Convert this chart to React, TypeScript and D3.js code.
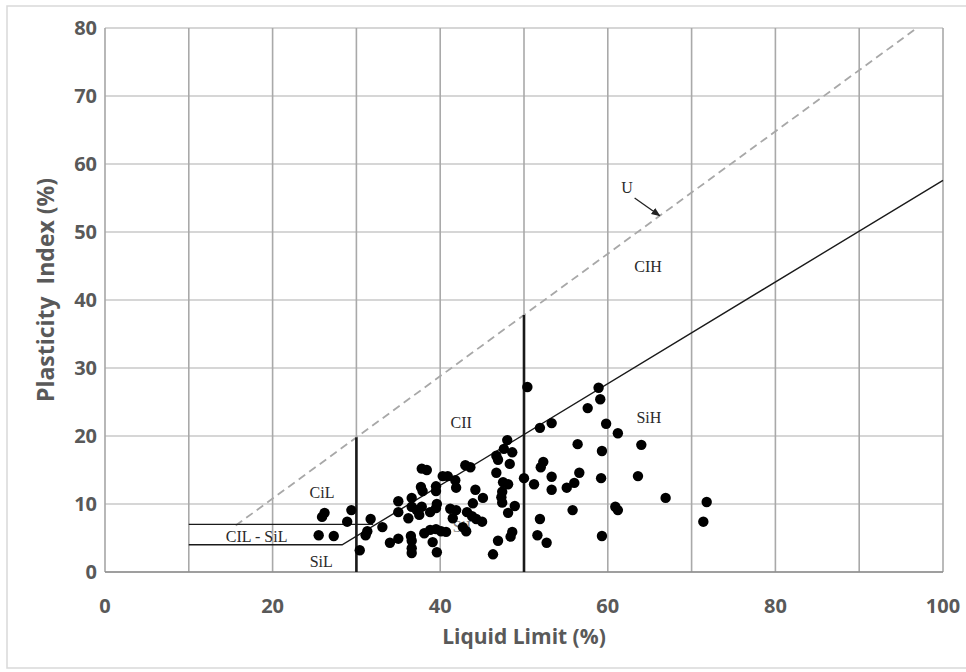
import React from "react";
import * as d3 from "d3";

// ---- data ----
const liquidLimit: number[] = [
  26.2, 25.9, 25.5, 27.3, 28.9, 29.4, 30.4, 31.7, 31.3, 31.1, 33.1, 34.0, 35.0, 35.0, 35.0, 36.6, 36.6, 36.2, 37.7, 37.9, 36.5, 36.6, 36.6, 36.6, 37.8, 38.4,
  39.5, 39.5, 40.3, 40.9, 41.8, 41.9, 43.0, 43.6, 44.2, 45.1, 43.9, 39.6, 39.5, 41.2, 41.9, 41.5, 37.2, 37.8, 37.5, 38.8, 43.2, 43.8, 44.3, 45.0, 42.7, 43.1, 38.1, 38.8, 39.5, 40.1, 40.7, 39.1, 39.6,
  46.7, 47.5, 48.1, 47.4, 47.3, 47.4, 48.9, 48.1, 48.6, 48.4, 46.9, 46.3, 50.0, 50.4, 48.0, 47.6, 48.6, 46.7, 46.9, 48.3,
  58.9, 59.1, 57.6, 51.9, 53.3, 59.8, 61.2, 56.4, 59.3, 64.0, 52.3, 52.0, 56.6, 53.3, 59.2, 63.6, 51.2, 53.3, 55.1, 56.0, 66.9, 71.8, 71.4, 55.8, 60.9, 61.2, 51.9, 51.6, 52.7, 59.3,
];
const plasticityIndex: number[] = [
  8.7, 8.1, 5.4, 5.3, 7.4, 9.1, 3.2, 7.8, 6.0, 5.4, 6.6, 4.3, 4.9, 10.4, 8.8, 10.9, 9.6, 7.9, 12.5, 11.9, 5.3, 4.6, 3.5, 2.8, 15.2, 15.0,
  12.6, 11.9, 14.1, 14.1, 13.5, 12.4, 15.7, 15.4, 12.1, 10.9, 10.1, 10.0, 9.4, 9.3, 9.1, 7.9, 9.1, 9.6, 8.4, 8.8, 8.8, 8.2, 7.8, 7.4, 6.6, 6.0, 5.7, 6.2, 6.3, 6.0, 5.9, 4.4, 2.9,
  14.6, 13.2, 12.9, 11.8, 11.0, 10.2, 9.7, 8.7, 5.9, 5.2, 4.6, 2.6, 13.8, 27.2, 19.4, 18.1, 17.6, 17.1, 16.5, 15.9,
  27.1, 25.4, 24.1, 21.2, 21.9, 21.8, 20.4, 18.8, 17.8, 18.7, 16.2, 15.4, 14.6, 14.0, 13.8, 14.1, 12.9, 12.1, 12.4, 13.1, 10.9, 10.3, 7.4, 9.1, 9.6, 9.1, 7.8, 5.4, 4.3, 5.3,
];
const xTicks: number[] = [0, 20, 40, 60, 80, 100];
const yTicks: number[] = [0, 10, 20, 30, 40, 50, 60, 70, 80];
const xGrid: number[] = [10, 20, 30, 40, 50, 60, 70, 80, 90, 100];

// classification lines (LL, PI)
const aLine: [number, number][] = [[10, 4], [28.3, 4], [100, 57.6]];
const ciLine: [number, number][] = [[10, 7], [32, 7]];
const uLine: [number, number][] = [[15.6, 0.9 * (15.6 - 8)], [96.9, 0.9 * (96.9 - 8)]];
const boundaryLL: number[] = [30, 50];
const uOf = (ll: number) => 0.9 * (ll - 8);

const zoneLabels: { text: string; ll: number; pi: number }[] = [
  { text: "CiL", ll: 25.9, pi: 10.9 },
  { text: "CIL - SiL", ll: 18.1, pi: 4.4 },
  { text: "SiL", ll: 25.8, pi: 0.7 },
  { text: "CII", ll: 42.5, pi: 21.2 },
  { text: "SiH", ll: 64.9, pi: 21.9 },
  { text: "CIH", ll: 64.8, pi: 44.1 },
  { text: "U", ll: 62.3, pi: 55.7 },
];

const W = 966;
const H = 672;
const M = { left: 105, right: 943, top: 28, bottom: 572 };

export default function App() {
  const x = d3.scaleLinear().domain([0, 100]).range([M.left, M.right]);
  const y = d3.scaleLinear().domain([0, 80]).range([M.bottom, M.top]);
  const line = d3
    .line<[number, number]>()
    .x((d) => x(d[0]))
    .y((d) => y(d[1]));
  const tickColor = "#595959";
  const sans = "'Open Sans', 'Noto Sans', sans-serif";
  const serif = "'Liberation Serif', 'DejaVu Serif', serif";

  return (
    <svg
      width={W}
      height={H}
      style={{ position: "absolute", left: 0, top: 0, background: "#fff" }}
    >
      <defs>
        <marker id="arr" viewBox="0 0 10 10" refX="9" refY="5" markerWidth="7" markerHeight="7" orient="auto">
          <path d="M0,1 L10,5 L0,9 z" fill="#222" />
        </marker>
      </defs>
      <rect x={7} y={6} width={W + 10} height={H - 10} fill="#fff" stroke="#d9d9d9" strokeWidth={1.5} />

      {/* horizontal grid */}
      {yTicks.map((t) => (
        <line key={"hy" + t} x1={x(0)} x2={x(100)} y1={y(t)} y2={y(t)} stroke="#d6d6d6" strokeWidth={1.8} />
      ))}
      {/* vertical grid */}
      {xGrid.map((t) => (
        <line key={"vx" + t} x1={x(t)} x2={x(t)} y1={y(0)} y2={y(80)} stroke="#a9a9a9" strokeWidth={1.6} />
      ))}
      {/* left axis & bottom axis */}
      <line x1={x(0)} x2={x(0)} y1={y(0)} y2={y(80)} stroke="#a6a6a6" strokeWidth={1.6} />
      <line x1={x(0)} x2={x(100)} y1={y(0)} y2={y(0)} stroke="#8c8c8c" strokeWidth={1.6} />

      {/* U line */}
      <path d={line(uLine) || ""} fill="none" stroke="#a8a8a8" strokeWidth={1.8} strokeDasharray="8,5" />
      {/* A line and lower bounds */}
      <path d={line(aLine) || ""} fill="none" stroke="#1a1a1a" strokeWidth={1.4} />
      <path d={line(ciLine) || ""} fill="none" stroke="#1a1a1a" strokeWidth={1.4} />
      {boundaryLL.map((b) => (
        <line key={"b" + b} x1={x(b)} x2={x(b)} y1={y(0)} y2={y(uOf(b))} stroke="#1a1a1a" strokeWidth={2.6} />
      ))}

      {/* zone labels */}
      <text x={x(42.6)} y={y(5.9)} textAnchor="middle" fontFamily={serif} fontSize={16} fill="#888">SiI</text>
      {zoneLabels.map((l) => (
        <text key={l.text} x={x(l.ll)} y={y(l.pi)} textAnchor="middle" fontFamily={serif} fontSize={16} fill="#2a2a2a">
          {l.text}
        </text>
      ))}
      <line x1={x(63.2)} y1={y(55.0)} x2={x(66.2)} y2={y(uOf(66.2))} stroke="#222" strokeWidth={1.3} markerEnd="url(#arr)" />

      {/* points */}
      {liquidLimit.map((ll, i) => (
        <circle key={"p" + i} cx={x(ll)} cy={y(plasticityIndex[i])} r={5.2} fill="#000" />
      ))}

      {/* tick labels */}
      {xTicks.map((t) => (
        <text key={"xt" + t} x={x(t)} y={y(0) + 41} textAnchor="middle" fontFamily={sans} fontWeight={700} fontSize={20} fill={tickColor}>
          {t}
        </text>
      ))}
      {yTicks.map((t) => (
        <text key={"yt" + t} x={97} y={y(t) + 7} textAnchor="end" fontFamily={sans} fontWeight={700} fontSize={20} fill={tickColor}>
          {t}
        </text>
      ))}
      <text x={x(50)} y={644} textAnchor="middle" fontFamily={sans} fontWeight={700} fontSize={21} fill={tickColor}>
        Liquid Limit (%)
      </text>
      <text
        transform={`translate(54, 290) rotate(-90)`}
        textAnchor="middle"
        fontFamily={sans}
        fontWeight={700}
        fontSize={23}
        fill={tickColor}
        style={{ whiteSpace: "pre" }}
      >
        {"Plasticity  Index (%)"}
      </text>
    </svg>
  );
}
